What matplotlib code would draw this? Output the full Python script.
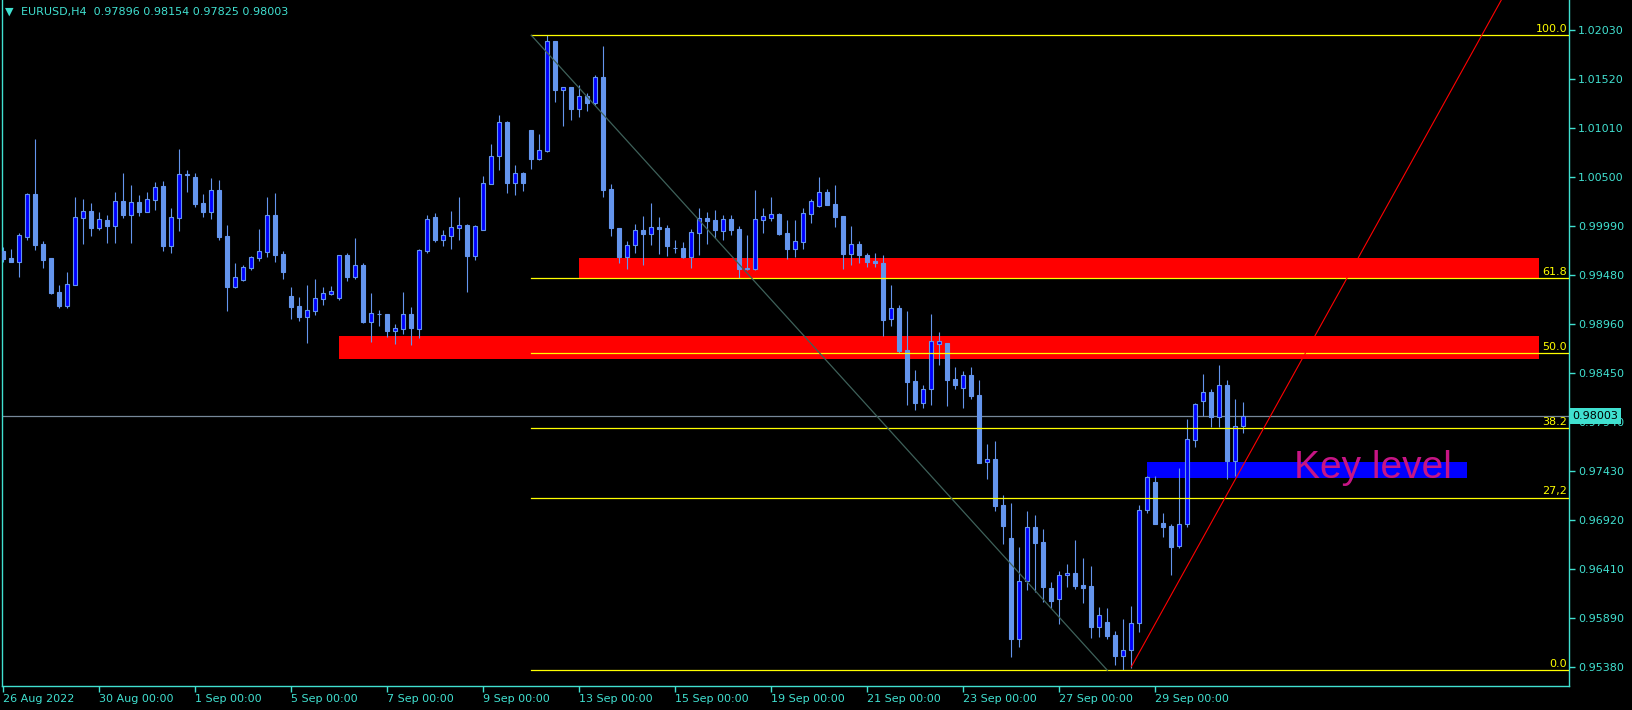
import matplotlib
matplotlib.use("Agg")
import matplotlib.pyplot as plt
from matplotlib.patches import Rectangle
from matplotlib.transforms import blended_transform_factory
import numpy as np

# EURUSD H4 bars, 26 Aug 2022 00:00 -> 30 Sep 2022 20:00
opens = [0.99728, 0.99654, 0.99616, 0.99877, 1.00323, 0.99801, 0.99654, 0.99300, 0.99153, 0.99376,
         1.00076, 1.00142, 0.99971, 1.00048, 0.99992, 1.00246, 1.00107, 1.00236, 1.00138, 1.00263,
         1.00406, 0.99783, 1.00076, 1.00528, 1.00500, 1.00225, 1.00138, 1.00364, 0.99884, 0.99352,
         0.99428, 0.99554, 0.99658, 0.99721, 1.00100, 0.99696, 0.99258, 0.99154, 0.99039, 0.99101,
         0.99227, 0.99280, 0.99237, 0.99686, 0.99456, 0.99582, 0.98987, 0.99070, 0.99070, 0.98893,
         0.98914, 0.99070, 0.98914, 0.99728, 1.00083, 0.99843, 0.99884, 0.99968, 0.99999, 0.99676,
         0.99947, 1.00427, 1.00717, 1.01072, 1.00438, 1.00542, 1.00992, 1.00689, 1.00772, 1.01921,
         1.01409, 1.01440, 1.01211, 1.01347, 1.01274, 1.01545, 1.00376, 0.99968, 0.99666, 0.99790,
         0.99948, 0.99906, 0.99979, 0.99968, 0.99760, 0.99760, 0.99666, 0.99916, 1.00073, 1.00052,
         0.99941, 1.00059, 0.99960, 0.99544, 0.99544, 1.00052, 1.00073, 1.00114, 0.99916, 0.99749,
         0.99826, 1.00114, 1.00198, 1.00344, 1.00219, 1.00094, 0.99697, 0.99800, 0.99685, 0.99623,
         0.99598, 0.99014, 0.99129, 0.98694, 0.98370, 0.98144, 0.98283, 0.98760, 0.98763, 0.98391,
         0.98293, 0.98429, 0.98220, 0.97521, 0.97556, 0.97072, 0.96727, 0.95680, 0.96278, 0.96842,
         0.96689, 0.96205, 0.96091, 0.96345, 0.96366, 0.96240, 0.96230, 0.95805, 0.95854, 0.95715,
         0.95495, 0.95558, 0.95840, 0.97020, 0.97316, 0.96884, 0.96857, 0.96647, 0.96874, 0.97751,
         0.98165, 0.98252, 0.97991, 0.98325, 0.97538, 0.97896]
highs = [0.99769, 0.99748, 0.99915, 1.00333, 1.00897, 0.99832, 0.99654, 0.99373, 0.99508, 1.00291,
         1.00270, 1.00229, 1.00135, 1.00103, 1.00344, 1.00542, 1.00417, 1.00312, 1.00344, 1.00448,
         1.00458, 1.00177, 1.00792, 1.00573, 1.00542, 1.00323, 1.00490, 1.00469, 0.99999, 0.99602,
         0.99581, 0.99675, 0.99957, 1.00291, 1.00333, 0.99728, 0.99352, 0.99248, 0.99373, 0.99435,
         0.99352, 0.99362, 0.99686, 0.99707, 0.99863, 0.99603, 0.99290, 0.99112, 0.99070, 0.98966,
         0.99300, 0.99143, 0.99749, 1.00104, 1.00125, 0.99947, 1.00145, 1.00292, 1.00010, 0.99999,
         1.00511, 1.00845, 1.01145, 1.01082, 1.00626, 1.00553, 1.00992, 1.00950, 1.01980, 1.01921,
         1.01440, 1.01440, 1.01461, 1.01378, 1.01566, 1.01869, 1.00428, 0.99968, 0.99833, 1.00010,
         1.00094, 1.00230, 1.00083, 1.00000, 0.99843, 0.99822, 0.99958, 1.00177, 1.00136, 1.00156,
         1.00104, 1.00104, 0.99989, 0.99895, 1.00365, 1.00177, 1.00292, 1.00125, 1.00052, 1.00052,
         1.00177, 1.00271, 1.00500, 1.00376, 1.00417, 1.00094, 0.99989, 0.99832, 0.99703, 0.99703,
         0.99685, 0.99372, 0.99163, 0.99101, 0.98485, 0.98328, 0.99069, 0.98882, 0.98770, 0.98516,
         0.98478, 0.98516, 0.98380, 0.97712, 0.97744, 0.97176, 0.97093, 0.96637, 0.97013, 0.96968,
         0.96821, 0.96275, 0.96383, 0.96460, 0.96710, 0.96519, 0.96439, 0.96007, 0.95997, 0.95757,
         0.95882, 0.96017, 0.97075, 0.97378, 0.97378, 0.96995, 0.96877, 0.97462, 0.97973, 0.98144,
         0.98443, 0.98283, 0.98534, 0.98380, 0.98179, 0.98154]
lows = [0.99616, 0.99616, 0.99456, 0.99842, 0.99738, 0.99550, 0.99279, 0.99132, 0.99132, 0.99376,
        0.99801, 0.99884, 0.99947, 0.99815, 0.99815, 1.00076, 0.99815, 1.00096, 1.00138, 1.00159,
        0.99728, 0.99710, 0.99936, 1.00347, 1.00190, 1.00083, 1.00062, 0.99842, 0.99105, 0.99341,
        0.99418, 0.99533, 0.99627, 0.99665, 0.99616, 0.99435, 0.99018, 0.98997, 0.98767, 0.99060,
        0.99164, 0.99269, 0.99216, 0.99415, 0.99435, 0.98976, 0.98778, 0.98945, 0.98830, 0.98757,
        0.98861, 0.98746, 0.98820, 0.99707, 0.99822, 0.99780, 0.99749, 0.99843, 0.99300, 0.99634,
        0.99947, 1.00427, 1.00573, 1.00333, 1.00312, 1.00354, 1.00584, 1.00678, 1.00762, 1.01284,
        1.01033, 1.01096, 1.01127, 1.01190, 1.01253, 1.00292, 0.99885, 0.99600, 0.99540, 0.99707,
        0.99582, 0.99790, 0.99697, 0.99676, 0.99707, 0.99655, 0.99551, 0.99687, 0.99801, 0.99864,
        0.99843, 0.99895, 0.99446, 0.99530, 0.99530, 0.99913, 1.00038, 0.99895, 0.99645, 0.99666,
        0.99749, 1.00020, 1.00188, 1.00209, 0.99979, 0.99540, 0.99582, 0.99598, 0.99564, 0.99564,
        0.98840, 0.98944, 0.98659, 0.98120, 0.98067, 0.98085, 0.98120, 0.98537, 0.98112, 0.98290,
        0.98092, 0.98179, 0.97510, 0.97350, 0.97016, 0.96672, 0.95485, 0.95590, 0.96188, 0.96170,
        0.96066, 0.96004, 0.95830, 0.96223, 0.96202, 0.96056, 0.95683, 0.95701, 0.95673, 0.95405,
        0.95349, 0.95370, 0.95753, 0.96995, 0.96881, 0.96738, 0.96348, 0.96626, 0.96842, 0.97684,
        0.98005, 0.97893, 0.97893, 0.97343, 0.97378, 0.97825]
closes = [0.99644, 0.99616, 0.99891, 1.00323, 0.99794, 0.99634, 0.99286, 0.99153, 0.99380, 1.00080,
          1.00142, 0.99971, 1.00058, 0.99992, 1.00246, 1.00103, 1.00236, 1.00138, 1.00267, 1.00392,
          0.99780, 1.00080, 1.00528, 1.00525, 1.00218, 1.00138, 1.00361, 0.99874, 0.99352, 0.99453,
          0.99557, 0.99661, 0.99724, 1.00100, 0.99686, 0.99509, 0.99143, 0.99039, 0.99112, 0.99237,
          0.99290, 0.99311, 0.99686, 0.99456, 0.99582, 0.98987, 0.99081, 0.99074, 0.98893, 0.98924,
          0.99070, 0.98924, 0.99738, 1.00062, 0.99843, 0.99895, 0.99978, 0.99999, 0.99676, 0.99989,
          1.00438, 1.00720, 1.01072, 1.00438, 1.00542, 1.00438, 1.00689, 1.00783, 1.01921, 1.01409,
          1.01440, 1.01211, 1.01347, 1.01274, 1.01545, 1.00365, 0.99968, 0.99666, 0.99790, 0.99948,
          0.99906, 0.99979, 0.99958, 0.99780, 0.99757, 0.99666, 0.99927, 1.00073, 1.00042, 0.99948,
          1.00059, 0.99948, 0.99544, 0.99546, 1.00059, 1.00094, 1.00114, 0.99906, 0.99749, 0.99833,
          1.00125, 1.00250, 1.00344, 1.00209, 1.00083, 0.99697, 0.99801, 0.99689, 0.99616, 0.99598,
          0.99007, 0.99129, 0.98687, 0.98363, 0.98144, 0.98283, 0.98784, 0.98784, 0.98384, 0.98332,
          0.98429, 0.98217, 0.97517, 0.97556, 0.97068, 0.96860, 0.95680, 0.96278, 0.96842, 0.96682,
          0.96216, 0.96077, 0.96341, 0.96366, 0.96233, 0.96212, 0.95805, 0.95924, 0.95711, 0.95502,
          0.95558, 0.95840, 0.97020, 0.97364, 0.96881, 0.96850, 0.96640, 0.96874, 0.97761, 0.98130,
          0.98252, 0.97991, 0.98325, 0.97538, 0.97900, 0.98003]

date_ticks = [0, 12, 24, 36, 48, 60, 72, 84, 96, 108, 120, 132, 144]
date_labels = ["26 Aug 2022", "30 Aug 00:00", "1 Sep 00:00", "5 Sep 00:00", "7 Sep 00:00",
               "9 Sep 00:00", "13 Sep 00:00", "15 Sep 00:00", "19 Sep 00:00", "21 Sep 00:00",
               "23 Sep 00:00", "27 Sep 00:00", "29 Sep 00:00"]
price_ticks = [1.02030, 1.01520, 1.01010, 1.00500, 0.99990, 0.99480, 0.98960,
               0.98450, 0.97940, 0.97430, 0.96920, 0.96410, 0.95890, 0.95380]

# fibonacci retracement (anchor bars and prices)
fib_bars = [66, 138]
fib_high, fib_low = 1.0198, 0.95349
fib_levels = [0.0, 27.2, 38.2, 50.0, 61.8, 100.0]
fib_names = ["0.0", "27,2", "38.2", "50.0", "61.8", "100.0"]

# supply / key zones: (first bar, last bar, low price, high price)
red_zones = [(72, 192, 0.99445, 0.99657), (42, 192, 0.98603, 0.98840)]
key_zone = (143, 183, 0.97354, 0.97524)

# rising trend line anchors
trend_bars = [141, 185]
trend_prices = [0.95386, 1.02010]

last_price = closes[-1]

BG = "#000000"
AXC = "#40E0D0"
WICK = "#6495ED"
BULL = "#0000FF"

fig = plt.figure(figsize=(16.33, 7.10), dpi=100, facecolor=BG)
ax = fig.add_axes([2.5 / 1633, 24 / 710, 1567 / 1633, 686 / 710], facecolor=BG)
ax.set_xlim(-0.104, 195.77)
ax.set_ylim(0.951846, 1.023485)

x = np.arange(len(opens))
o = np.array(opens); h = np.array(highs); l = np.array(lows); c = np.array(closes)
up = c >= o

# zones behind the candles
for b0, b1, p0, p1 in red_zones:
    ax.add_patch(Rectangle((b0, p0), b1 - b0, p1 - p0, facecolor="#FF0000", edgecolor="none", zorder=1))
kb0, kb1, kp0, kp1 = key_zone
ax.add_patch(Rectangle((kb0, kp0), kb1 - kb0, kp1 - kp0, facecolor="#0000FF", edgecolor="none", zorder=1))

ax.axhline(last_price, color="#778899", lw=0.9, zorder=1.5)

# candles
ax.vlines(x, l, h, color=WICK, lw=0.8, zorder=2)
body_lo = np.minimum(o, c)
body_h = np.maximum(np.abs(c - o), 0.00001)
ax.bar(x, body_h, bottom=body_lo, width=0.5,
       color=np.where(up, BULL, WICK), edgecolor=WICK, linewidth=0.8, zorder=3)

# fibonacci
span = fib_high - fib_low
tr = blended_transform_factory(ax.transAxes, ax.transData)
for lev, name in zip(fib_levels, fib_names):
    price = fib_low + span * lev / 100
    ax.plot([fib_bars[0], 195.77], [price, price], color="#FFFF00", lw=0.9, zorder=4)
    ax.text(0.9985, price + 0.00012, name, transform=tr, ha="right", va="bottom",
            color="#FFFF00", fontsize=8, zorder=5)
ax.plot(fib_bars, [fib_high, fib_low], color="#3E615A", lw=0.9, zorder=4)

# trend line ray
slope = (trend_prices[1] - trend_prices[0]) / (trend_bars[1] - trend_bars[0])
ax.plot([trend_bars[0], 200], [trend_prices[0], trend_prices[0] + slope * (200 - trend_bars[0])],
        color="#FF0000", lw=0.8, zorder=4)

ax.text(161.3, kp0, "Key level", color="#C71585", fontsize=28, family="Liberation Sans",
        ha="left", va="baseline", zorder=5)

# axes styling
for side in ["left", "right", "bottom"]:
    ax.spines[side].set_color(AXC)
    ax.spines[side].set_linewidth(1)
ax.spines["top"].set_visible(False)
ax.yaxis.tick_right()
ax.set_yticks(price_ticks)
ax.set_yticklabels([f"{p:.5f}" for p in price_ticks])
ax.set_xticks(date_ticks)
ax.set_xticklabels(date_labels, ha="left")
ax.tick_params(axis="both", colors=AXC, labelcolor=AXC, labelsize=8, length=4, width=1, direction="out")
ax.tick_params(axis="y", pad=2)
ax.tick_params(axis="x", pad=2)

ax.text(1.0018, last_price, f"{last_price:.5f}", transform=tr, ha="left", va="center",
        color="#000000", fontsize=8, zorder=10, clip_on=False,
        bbox=dict(boxstyle="square,pad=0.28", facecolor=AXC, edgecolor="none"))

fig.text(5 / 1633, 1 - 12 / 710, "▼", color=AXC, fontsize=8, va="center", ha="left")
fig.text(21 / 1633, 1 - 12 / 710, "EURUSD,H4  0.97896 0.98154 0.97825 0.98003",
         color=AXC, fontsize=8, va="center", ha="left")

fig.savefig("out.png", dpi=100, facecolor=BG)
